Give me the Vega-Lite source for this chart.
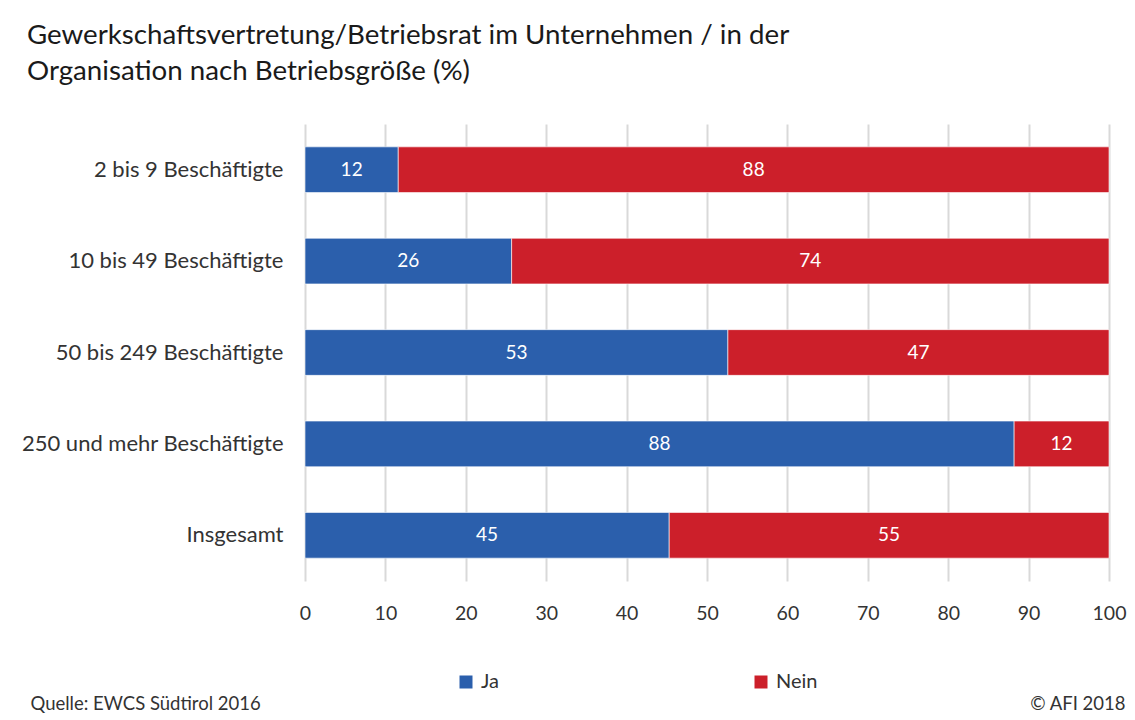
{
  "$schema": "https://vega.github.io/schema/vega-lite/v6.json",
  "width": 804,
  "height": 457,
  "autosize": {"type": "none"},
  "padding": {"left": 305, "top": 124, "right": 26, "bottom": 139},
  "background": "#ffffff",
  "title": {
    "text": ["Gewerkschaftsvertretung/Betriebsrat im Unternehmen / in der", "Organisation nach Betriebsgröße (%)"],
    "anchor": "start",
    "frame": "group",
    "dx": -278,
    "fontSize": 27.7,
    "font": "Lato",
    "fontWeight": "normal",
    "color": "#1a1a1a",
    "lineHeight": 36,
    "offset": 38
  },
  "data": {
    "values": [
      {"groesse": "2 bis 9 Beschäftigte", "antwort": "Ja", "wert": 11.6},
      {"groesse": "2 bis 9 Beschäftigte", "antwort": "Nein", "wert": 88.4},
      {"groesse": "10 bis 49 Beschäftigte", "antwort": "Ja", "wert": 25.7},
      {"groesse": "10 bis 49 Beschäftigte", "antwort": "Nein", "wert": 74.3},
      {"groesse": "50 bis 249 Beschäftigte", "antwort": "Ja", "wert": 52.6},
      {"groesse": "50 bis 249 Beschäftigte", "antwort": "Nein", "wert": 47.4},
      {"groesse": "250 und mehr Beschäftigte", "antwort": "Ja", "wert": 88.2},
      {"groesse": "250 und mehr Beschäftigte", "antwort": "Nein", "wert": 11.8},
      {"groesse": "Insgesamt", "antwort": "Ja", "wert": 45.3},
      {"groesse": "Insgesamt", "antwort": "Nein", "wert": 54.7}
    ]
  },
  "encoding": {
    "y": {
      "field": "groesse",
      "type": "nominal",
      "sort": null,
      "scale": {"paddingInner": 0.5, "paddingOuter": 0.25},
      "axis": {
        "title": "Quelle: EWCS Südtirol 2016",
        "titleAngle": 0,
        "titleX": -275,
        "titleY": 585,
        "titleAlign": "left",
        "titleBaseline": "alphabetic",
        "titleFontSize": 18.5,
        "titleFontWeight": "normal",
        "titleFont": "Lato",
        "titleColor": "#333333",
        "domain": false,
        "ticks": false,
        "labelPadding": 22,
        "labelFontSize": 22,
        "labelLimit": 400,
        "labelFont": "Lato",
        "labelColor": "#333333"
      }
    },
    "x": {
      "field": "wert",
      "type": "quantitative",
      "stack": "zero",
      "scale": {"domain": [0, 100], "nice": false},
      "axis": {
        "values": [0, 10, 20, 30, 40, 50, 60, 70, 80, 90, 100],
        "title": "© AFI 2018",
        "titleX": 820,
        "titleY": 128,
        "titleAlign": "right",
        "titleAnchor": null,
        "titleBaseline": "alphabetic",
        "titleFontSize": 18.5,
        "titleFontWeight": "normal",
        "titleFont": "Lato",
        "titleColor": "#333333",
        "domain": false,
        "ticks": false,
        "grid": true,
        "gridColor": "#d9d9d9",
        "gridWidth": 2,
        "labelFlush": false,
        "labelPadding": 23,
        "labelFontSize": 19.5,
        "labelFont": "Lato",
        "labelColor": "#333333"
      }
    }
  },
  "layer": [
    {
      "mark": {"type": "bar", "stroke": "#ffffff", "strokeWidth": 0.6},
      "encoding": {
        "color": {
          "field": "antwort",
          "type": "nominal",
          "scale": {"domain": ["Ja", "Nein"], "range": ["#2b5fac", "#cc1f2a"]},
          "legend": {
            "title": null,
            "orient": "none",
            "direction": "horizontal",
            "legendX": 151,
            "legendY": 548,
            "symbolType": "square",
            "symbolSize": 169,
            "symbolStrokeWidth": 0,
            "labelFontSize": 20,
            "labelFont": "Lato",
            "labelColor": "#333333",
            "labelOffset": 5,
            "columnPadding": 252
          }
        },
        "order": {"field": "antwort"}
      }
    },
    {
      "mark": {"type": "text", "color": "#ffffff", "fontSize": 19, "font": "Lato", "baseline": "middle", "align": "center"},
      "encoding": {
        "x": {"field": "wert", "type": "quantitative", "stack": "zero", "bandPosition": 0.5},
        "detail": {"field": "antwort"},
        "order": {"field": "antwort"},
        "text": {"field": "wert", "type": "quantitative", "format": ".0f"}
      }
    }
  ],
  "config": {"view": {"stroke": null}}
}
